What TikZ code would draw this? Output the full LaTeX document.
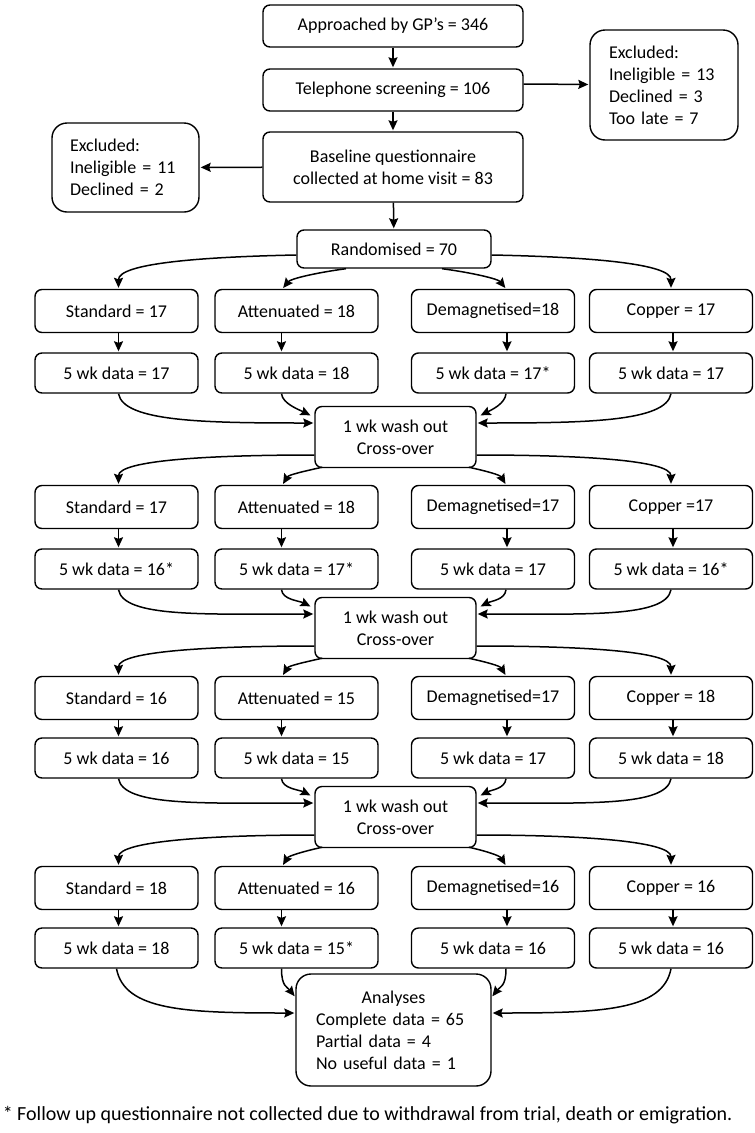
\documentclass[tikz,border=0pt]{standalone}
\usepackage{fontspec}
\setmainfont{Carlito}
\usepackage{tikz}
\usetikzlibrary{arrows.meta}
\tikzstyle{box} = [rectangle, draw, rounded corners=7pt, fill=white, align=center, inner sep=2pt, line width=1.4pt, font=\fontsize{18}{22}\selectfont]
\tikzstyle{top} = [box, minimum width=260pt, minimum height=42pt]
\tikzstyle{arm} = [box, minimum width=163pt, minimum height=43pt]
\tikzstyle{dat} = [box, minimum width=163pt, minimum height=40pt]
\tikzstyle{wash} = [box, minimum width=161pt, minimum height=61pt]
\tikzstyle{side} = [box, rounded corners=15pt, align=left]

\begin{document}
\begin{tikzpicture}[x=1pt,y=-1pt,->,>={Stealth[length=10pt,width=9pt,inset=1.5pt]},shorten >=1pt,line width=1.5pt]
  \useasboundingbox (0,0) rectangle (755,1133);
  \node[top] (GP) at (393,26) {Approached by GP’s = 346};
  \node[top] (Tel) at (393,90) {Telephone screening = 106};
  \node[top, minimum height=70pt] (Base) at (393,167) {Baseline questionnaire\\collected at home visit = 83};
  \node[side, text width=110pt, inner xsep=19pt, minimum height=110pt] (ExTel) at (664,85) {Excluded:\\Ineligible = 13\\Declined = 3\\Too late = 7};
  \node[side, text width=111pt, inner xsep=18pt, minimum height=89pt] (ExBase) at (125.5,167.5) {Excluded:\\Ineligible = 11\\Declined = 2};
  \node[box, minimum width=194pt, minimum height=38pt] (R) at (394,249) {Randomised = 70};

  % period 1
  \node[arm] (S1) at (116.5,311) {Standard = 17};
  \node[arm] (A1) at (296.5,311) {Attenuated = 18};
  \node[arm] (D1) at (493,311) {Demagnetised=18};
  \node[arm] (C1) at (671,311) {Copper = 17};
  \node[dat] (S1d) at (116.5,373) {5 wk data = 17};
  \node[dat] (A1d) at (296.5,373) {5 wk data = 18};
  \node[dat] (D1d) at (493,373) {5 wk data = 17*};
  \node[dat] (C1d) at (671,373) {5 wk data = 17};
  \node[wash] (W1) at (395.5,437) {1 wk wash out\\Cross-over};

  % period 2
  \node[arm] (S2) at (116.5,507) {Standard = 17};
  \node[arm] (A2) at (296.5,507) {Attenuated = 18};
  \node[arm] (D2) at (493,507) {Demagnetised=17};
  \node[arm] (C2) at (671,507) {Copper =17};
  \node[dat] (S2d) at (116.5,569) {5 wk data = 16*};
  \node[dat] (A2d) at (296.5,569) {5 wk data = 17*};
  \node[dat] (D2d) at (493,569) {5 wk data = 17};
  \node[dat] (C2d) at (671,569) {5 wk data = 16*};
  \node[wash] (W2) at (395.5,628) {1 wk wash out\\Cross-over};

  % period 3
  \node[arm] (S3) at (116.5,698) {Standard = 16};
  \node[arm] (A3) at (296.5,698) {Attenuated = 15};
  \node[arm] (D3) at (493,698) {Demagnetised=17};
  \node[arm] (C3) at (671,698) {Copper = 18};
  \node[dat] (S3d) at (116.5,758) {5 wk data = 16};
  \node[dat] (A3d) at (296.5,758) {5 wk data = 15};
  \node[dat] (D3d) at (493,758) {5 wk data = 17};
  \node[dat] (C3d) at (671,758) {5 wk data = 18};
  \node[wash] (W3) at (395.5,817) {1 wk wash out\\Cross-over};

  % period 4
  \node[arm] (S4) at (116.5,888) {Standard = 18};
  \node[arm] (A4) at (296.5,888) {Attenuated = 16};
  \node[arm] (D4) at (493,888) {Demagnetised=16};
  \node[arm] (C4) at (671,888) {Copper = 16};
  \node[dat] (S4d) at (116.5,948) {5 wk data = 18};
  \node[dat] (A4d) at (296.5,948) {5 wk data = 15*};
  \node[dat] (D4d) at (493,948) {5 wk data = 16};
  \node[dat] (C4d) at (671,948) {5 wk data = 16};
  \node[side, text width=155pt, inner xsep=20pt, minimum height=112pt] (Ana) at (393.5,1030) {\makebox[155pt]{Analyses}\\Complete data = 65\\Partial data = 4\\No useful data = 1};

  \node[anchor=west, inner sep=0pt, font=\fontsize{20}{22}\selectfont] (Note) at (2,1115) {* Follow up questionnaire not collected due to withdrawal from trial, death or emigration.};

  \path (GP) edge (Tel);
  \path (Tel) edge (Base);
  \path ([yshift=6pt]Tel.east) edge (ExTel);
  \path (Base) edge (ExBase);
  \path (Base) edge (R);

  \draw ([yshift=-6pt]R.west) .. controls +(-100,2) and +(0,-25) .. ([xshift=2pt]S1.north);
  \draw ([xshift=-48pt]R.south) .. controls +(-30,4) and +(8,-10) .. ([xshift=-14pt]A1.north);
  \draw ([xshift=48pt]R.south) .. controls +(30,4) and +(-8,-10) .. ([xshift=13pt]D1.north);
  \draw ([yshift=-6pt]R.east) .. controls +(100,2) and +(0,-25) .. (C1.north);

  \path ([xshift=2pt]S1.south) edge ([xshift=2pt]S1d.north);
  \path ([xshift=-15pt]A1.south) edge ([xshift=-15pt]A1d.north);
  \path ([xshift=14pt]D1.south) edge ([xshift=14pt]D1d.north);
  \path ([xshift=2pt]C1.south) edge ([xshift=2pt]C1d.north);

  \draw ([xshift=2pt]S1d.south) .. controls +(5,28) and +(-110,0) .. ([yshift=14pt]W1.west);
  \draw ([xshift=-15pt]A1d.south) .. controls +(1,10) and +(-12,-6) .. ([xshift=-3pt,yshift=-10pt]W1.north west);
  \draw ([xshift=13pt]D1d.south) .. controls +(-1,10) and +(12,-6) .. ([xshift=3pt,yshift=-10pt]W1.north east);
  \draw ([xshift=0pt]C1d.south) .. controls +(-5,28) and +(110,0) .. ([yshift=14pt]W1.east);

  \draw ([yshift=-18pt]W1.west) .. controls +(-100,0) and +(0,-25) .. ([xshift=2pt]S2.north);
  \draw ([xshift=8pt,yshift=1pt]W1.south west) .. controls +(-18,4) and +(6,-10) .. ([xshift=-14pt]A2.north);
  \draw ([xshift=-8pt,yshift=1pt]W1.south east) .. controls +(18,4) and +(-6,-10) .. ([xshift=13pt]D2.north);
  \draw ([yshift=-18pt]W1.east) .. controls +(100,0) and +(0,-25) .. (C2.north);

  \path ([xshift=2pt]S2.south) edge ([xshift=2pt]S2d.north);
  \path ([xshift=-15pt]A2.south) edge ([xshift=-15pt]A2d.north);
  \path ([xshift=14pt]D2.south) edge ([xshift=14pt]D2d.north);
  \path ([xshift=2pt]C2.south) edge ([xshift=2pt]C2d.north);

  \draw ([xshift=2pt]S2d.south) .. controls +(5,28) and +(-110,0) .. ([yshift=14pt]W2.west);
  \draw ([xshift=-15pt]A2d.south) .. controls +(1,10) and +(-12,-6) .. ([xshift=-3pt,yshift=-10pt]W2.north west);
  \draw ([xshift=13pt]D2d.south) .. controls +(-1,10) and +(12,-6) .. ([xshift=3pt,yshift=-10pt]W2.north east);
  \draw ([xshift=0pt]C2d.south) .. controls +(-5,28) and +(110,0) .. ([yshift=14pt]W2.east);

  \draw ([yshift=-18pt]W2.west) .. controls +(-100,0) and +(0,-25) .. ([xshift=2pt]S3.north);
  \draw ([xshift=8pt,yshift=1pt]W2.south west) .. controls +(-18,4) and +(6,-10) .. ([xshift=-14pt]A3.north);
  \draw ([xshift=-8pt,yshift=1pt]W2.south east) .. controls +(18,4) and +(-6,-10) .. ([xshift=13pt]D3.north);
  \draw ([yshift=-18pt]W2.east) .. controls +(100,0) and +(0,-25) .. (C3.north);

  \path ([xshift=2pt]S3.south) edge ([xshift=2pt]S3d.north);
  \path ([xshift=-15pt]A3.south) edge ([xshift=-15pt]A3d.north);
  \path ([xshift=14pt]D3.south) edge ([xshift=14pt]D3d.north);
  \path ([xshift=2pt]C3.south) edge ([xshift=2pt]C3d.north);

  \draw ([xshift=2pt]S3d.south) .. controls +(5,28) and +(-110,0) .. ([yshift=14pt]W3.west);
  \draw ([xshift=-15pt]A3d.south) .. controls +(1,10) and +(-12,-6) .. ([xshift=-3pt,yshift=-10pt]W3.north west);
  \draw ([xshift=13pt]D3d.south) .. controls +(-1,10) and +(12,-6) .. ([xshift=3pt,yshift=-10pt]W3.north east);
  \draw ([xshift=0pt]C3d.south) .. controls +(-5,28) and +(110,0) .. ([yshift=14pt]W3.east);

  \draw ([yshift=-18pt]W3.west) .. controls +(-100,0) and +(0,-25) .. ([xshift=2pt]S4.north);
  \draw ([xshift=8pt,yshift=1pt]W3.south west) .. controls +(-18,4) and +(6,-10) .. ([xshift=-14pt]A4.north);
  \draw ([xshift=-8pt,yshift=1pt]W3.south east) .. controls +(18,4) and +(-6,-10) .. ([xshift=13pt]D4.north);
  \draw ([yshift=-18pt]W3.east) .. controls +(100,0) and +(0,-25) .. (C4.north);

  \path ([xshift=2pt]S4.south) edge ([xshift=2pt]S4d.north);
  \path ([xshift=-15pt]A4.south) edge ([xshift=-15pt]A4d.north);
  \path ([xshift=14pt]D4.south) edge ([xshift=14pt]D4d.north);
  \path ([xshift=2pt]C4.south) edge ([xshift=2pt]C4d.north);

  \draw ([xshift=0pt]S4d.south) .. controls +(8,42) and +(-110,0) .. ([yshift=17pt]Ana.west);
  \draw ([xshift=-15pt]A4d.south) .. controls +(0,18) and +(-8,-10) .. ([yshift=33pt]Ana.west);
  \draw ([xshift=13pt]D4d.south) .. controls +(0,18) and +(8,-10) .. ([yshift=33pt]Ana.east);
  \draw ([xshift=0pt]C4d.south) .. controls +(-8,42) and +(110,0) .. ([yshift=17pt]Ana.east);
\end{tikzpicture}
\end{document}
